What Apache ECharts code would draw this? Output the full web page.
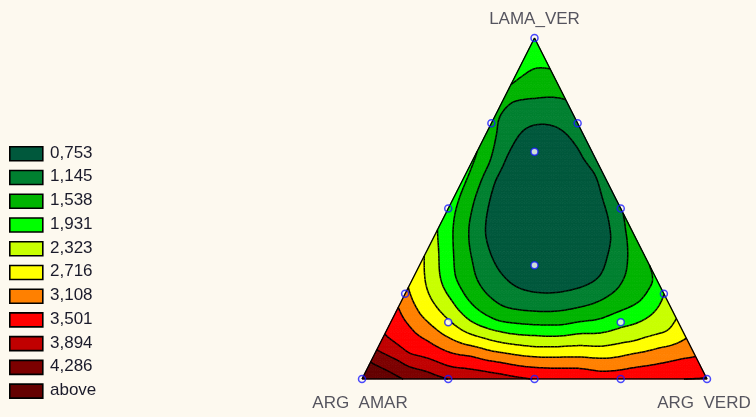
<!DOCTYPE html>
<html>
<head>
<meta charset="utf-8">
<script src="https://cdn.jsdelivr.net/npm/echarts@6/dist/echarts.min.js"></script>
<style>
  html, body { margin: 0; padding: 0; background: #fdf9ef; }
  #chart { width: 756px; height: 417px; }
</style>
</head>
<body>
<div id="chart"></div>
<script>
// Mixture components (vertex labels): top, bottom-left, bottom-right
const componentNames = ['LAMA_VER', 'ARG  AMAR', 'ARG  VERD'];

// Contour levels and the colour of each band (band k holds values up to levels[k])
const levels = [0.753, 1.145, 1.538, 1.931, 2.323, 2.716, 3.108, 3.501, 3.894, 4.286];
const legendLabels = ['0,753', '1,145', '1,538', '1,931', '2,323', '2,716', '3,108', '3,501', '3,894', '4,286', 'above'];
const bandColors = ['#00583c', '#008030', '#00b400', '#00ff00', '#c8ff00', '#ffff00',
                    '#ff8000', '#ff0000', '#c00000', '#7c0000', '#640000'];

// Design points of the mixture experiment, as [LAMA_VER, ARG_VERD] fractions (ARG_AMAR is the rest)
const designEdge = [[1, 0], [0, 0], [0, 1],
  [0.75, 0], [0.5, 0], [0.25, 0],
  [0.75, 0.25], [0.5, 0.5], [0.25, 0.75],
  [0, 0.25], [0, 0.5], [0, 0.75]];
const designInner = [[2 / 3, 1 / 6], [1 / 3, 1 / 3], [1 / 6, 1 / 6], [1 / 6, 2 / 3]];

// Traced isolines of the response: [LAMA_VER, ARG_VERD] points lying on each contour level
const trace0753 = [[0.745, 0.129], [0.730, 0.214], [0.672, 0.296], [0.604, 0.373], [0.535, 0.427],
  [0.476, 0.476], [0.417, 0.515], [0.359, 0.530], [0.300, 0.540], [0.261, 0.472], [0.255, 0.374],
  [0.270, 0.314], [0.299, 0.265], [0.340, 0.215], [0.428, 0.143], [0.487, 0.119], [0.584, 0.094], [0.652, 0.093]];
const trace1145 = [[0.821, 0.091], [0.199, 0.402], [0.821, 0.179], [0.490, 0.510], [0.818, 0.026],
  [0.730, 0.029], [0.633, 0.054], [0.584, 0.055], [0.487, 0.074], [0.340, 0.153], [0.299, 0.181],
  [0.232, 0.267], [0.217, 0.292], [0.211, 0.526], [0.238, 0.585], [0.290, 0.609], [0.364, 0.589], [0.437, 0.544]];
const trace1538 = [[0.915, 0.044], [0.158, 0.422], [0.853, 0], [0.672, 0], [0.906, 0.094], [0.352, 0.648],
  [0.584, 0.012], [0.487, 0.026], [0.299, 0.120], [0.232, 0.191], [0.167, 0.316],
  [0.158, 0.504], [0.173, 0.595], [0.196, 0.641], [0.226, 0.693], [0.282, 0.708]];
const trace1931 = [[0.129, 0.437], [0.437, 0], [0.255, 0.745], [0.299, 0.077], [0.232, 0.145],
  [0.167, 0.235], [0.141, 0.330], [0.135, 0.565], [0.153, 0.675], [0.188, 0.741], [0.232, 0.754]];
const trace2323 = [[0.094, 0.454], [0.364, 0], [0.179, 0.821], [0.299, 0.033], [0.232, 0.087],
  [0.167, 0.177], [0.120, 0.296], [0.107, 0.347], [0.094, 0.643], [0.109, 0.731], [0.135, 0.817]];
const trace2716 = [[0.065, 0.469], [0.267, 0], [0.120, 0.880], [0.232, 0.029], [0.188, 0.074],
  [0.135, 0.159], [0.100, 0.249], [0.082, 0.330], [0.062, 0.659], [0.076, 0.747], [0.094, 0.817], [0.109, 0.868]];
const trace3108 = [[0.035, 0.484], [0.214, 0], [0.0645, 0.9355], [0.158, 0.060], [0.114, 0.134],
  [0.070, 0.278], [0.050, 0.375], [0.032, 0.616], [0.021, 0.679], [0.041, 0.823], [0.062, 0.900]];
const trace3501 = [[0.129, 0], [0.070, 0.098], [0.035, 0.238], [0.015, 0.393], [0, 0.487]];
const trace3894 = [[0.085, 0], [0.056, 0.082], [0.026, 0.169], [0, 0.249]];
const trace4286 = [[0.050, 0], [0.024, 0.064], [0, 0.116]];

// Spot values of the response: [LAMA_VER, ARG_VERD, value]
const spotValues = [[1, 0, 1.85], [0, 0, 4.75], [0, 1, 3.52], [0.76, 0, 1.22], [0.672, 0.328, 1.08],
  [0, 0.65, 3.42], [0, 0.8, 3.42]];

// composition -> plot plane (x across the base, y = LAMA_VER height)
const toXY = (l, v) => [v + l / 2, l];
const ASPECT = 341 / 345;

// ---------- response surface: smoothing thin-plate spline through the readings ----------
const traces = [trace0753, trace1145, trace1538, trace1931, trace2323, trace2716,
                trace3108, trace3501, trace3894, trace4286];
const samples = [];
traces.forEach((tr, k) => tr.forEach(([l, v]) => { const p = toXY(l, v); samples.push([p[0], p[1] * ASPECT, levels[k]]); }));
spotValues.forEach(([l, v, z]) => { const p = toXY(l, v); samples.push([p[0], p[1] * ASPECT, z]); });

const SMOOTH = 1.2e-3;
const kernel = r2 => (r2 > 0 ? 0.5 * r2 * Math.log(r2) : 0);
function fitSpline(pts) {
  const n = pts.length, m = n + 3;
  const A = Array.from({ length: m }, () => new Float64Array(m + 1));
  for (let i = 0; i < n; i++) {
    for (let j = 0; j < n; j++) {
      const dx = pts[i][0] - pts[j][0], dy = pts[i][1] - pts[j][1];
      A[i][j] = kernel(dx * dx + dy * dy) + (i === j ? SMOOTH : 0);
    }
    A[i][n] = A[n][i] = 1;
    A[i][n + 1] = A[n + 1][i] = pts[i][0];
    A[i][n + 2] = A[n + 2][i] = pts[i][1];
    A[i][m] = pts[i][2];
  }
  for (let c = 0; c < m; c++) {
    let p = c;
    for (let r = c + 1; r < m; r++) if (Math.abs(A[r][c]) > Math.abs(A[p][c])) p = r;
    const tmp = A[c]; A[c] = A[p]; A[p] = tmp;
    for (let r = c + 1; r < m; r++) {
      const f = A[r][c] / A[c][c];
      if (f === 0) continue;
      for (let k = c; k <= m; k++) A[r][k] -= f * A[c][k];
    }
  }
  const x = new Float64Array(m);
  for (let r = m - 1; r >= 0; r--) {
    let s = A[r][m];
    for (let k = r + 1; k < m; k++) s -= A[r][k] * x[k];
    x[r] = s / A[r][r];
  }
  return x;
}
const weights = fitSpline(samples);
function surfaceXY(X, Y) {
  const n = samples.length;
  let s = weights[n] + weights[n + 1] * X + weights[n + 2] * Y;
  for (let i = 0; i < n; i++) {
    const dx = X - samples[i][0], dy = Y - samples[i][1];
    s += weights[i] * kernel(dx * dx + dy * dy);
  }
  return s;
}

// triangular lattice over the simplex
const N = 96;
const triangles = [];
const nodeCache = {};
const node = (i, j) => {
  const key = i * 1000 + j;
  if (!nodeCache[key]) {
    const p = toXY(i / N, j / N);
    nodeCache[key] = [p[0], p[1], surfaceXY(p[0], p[1] * ASPECT)];
  }
  return nodeCache[key];
};
for (let i = 0; i < N; i++) {
  for (let j = 0; j < N - i; j++) {
    triangles.push([node(i, j), node(i + 1, j), node(i, j + 1)]);
    if (i + j <= N - 2) triangles.push([node(i + 1, j), node(i + 1, j + 1), node(i, j + 1)]);
  }
}
function clip(poly, t, keepAbove) {
  const out = [];
  for (let i = 0; i < poly.length; i++) {
    const p = poly[i], q = poly[(i + 1) % poly.length];
    const pin = keepAbove ? p[2] >= t : p[2] <= t;
    const qin = keepAbove ? q[2] >= t : q[2] <= t;
    if (pin) out.push(p);
    if (pin !== qin) {
      const s = (t - p[2]) / (q[2] - p[2]);
      out.push([p[0] + s * (q[0] - p[0]), p[1] + s * (q[1] - p[1]), t]);
    }
  }
  return out;
}
const triData = triangles.map(t => [(t[0][0] + t[1][0] + t[2][0]) / 3, (t[0][1] + t[1][1] + t[2][1]) / 3]);

function renderBands(params, api) {
  const tri = triangles[params.dataIndex];
  const zs = tri.map(p => p[2]);
  const zmin = Math.min(...zs), zmax = Math.max(...zs);
  const children = [];
  for (let k = 0; k < bandColors.length; k++) {
    const lo = k === 0 ? -Infinity : levels[k - 1];
    const hi = k < levels.length ? levels[k] : Infinity;
    if (zmax < lo || zmin > hi) continue;
    let poly = tri;
    if (lo > -Infinity) poly = clip(poly, lo, true);
    if (poly.length >= 3 && hi < Infinity) poly = clip(poly, hi, false);
    if (poly.length < 3) continue;
    children.push({
      type: 'polygon',
      shape: { points: poly.map(p => api.coord([p[0], p[1]])) },
      style: { fill: bandColors[k], stroke: bandColors[k], lineWidth: 0.8 }
    });
  }
  return { type: 'group', children };
}
function renderIsolines(params, api) {
  const tri = triangles[params.dataIndex];
  const children = [];
  levels.forEach(t => {
    const pts = [];
    for (let i = 0; i < 3; i++) {
      const p = tri[i], q = tri[(i + 1) % 3];
      if ((p[2] - t) * (q[2] - t) < 0) {
        const s = (t - p[2]) / (q[2] - p[2]);
        pts.push(api.coord([p[0] + s * (q[0] - p[0]), p[1] + s * (q[1] - p[1])]));
      }
    }
    if (pts.length === 2) {
      children.push({ type: 'line', shape: { x1: pts[0][0], y1: pts[0][1], x2: pts[1][0], y2: pts[1][1] },
        style: { stroke: '#000', lineWidth: 1.5 } });
    }
  });
  return { type: 'group', children };
}

const vertexComps = [[1, 0], [0, 0], [0, 1]];
const vertexXY = vertexComps.map(([l, v]) => toXY(l, v));
const labelOffsets = [[0, -19], [-2, 24], [-3, 24]];

const legendGraphics = [];
legendLabels.forEach((lab, k) => {
  const y = 146 + k * 23.73;
  legendGraphics.push({ type: 'rect', left: 9, top: y, shape: { width: 33, height: 14 },
    style: { fill: bandColors[k], stroke: '#000', lineWidth: 1.6 }, silent: true });
  legendGraphics.push({ type: 'text', left: 50, top: y - 1.5, style: { text: lab, fill: '#1a1a2a',
    font: '17px "Liberation Sans", Arial, sans-serif' }, silent: true });
});

const chart = echarts.init(document.getElementById('chart'));
chart.setOption({
  backgroundColor: '#fdf9ef',
  animation: false,
  grid: { left: 362, top: 38, width: 345, height: 341 },
  xAxis: { type: 'value', min: 0, max: 1, show: false },
  yAxis: { type: 'value', min: 0, max: 1, show: false },
  graphic: legendGraphics,
  series: [
    { type: 'custom', name: 'bands', data: triData, renderItem: renderBands, silent: true, z: 1, progressive: 0 },
    { type: 'custom', name: 'isolines', data: triData, renderItem: renderIsolines, silent: true, z: 2, progressive: 0 },
    { type: 'line', name: 'frame', data: [vertexXY[1], vertexXY[0], vertexXY[2], vertexXY[1]],
      showSymbol: false, silent: true, z: 3, lineStyle: { color: '#000', width: 1.4 } },
    { type: 'scatter', name: 'design', data: designEdge.map(([l, v]) => toXY(l, v)), z: 4, silent: true,
      symbol: 'circle', symbolSize: 7, itemStyle: { color: 'rgba(255,255,255,0)', borderColor: '#1a1aff', borderWidth: 1.5 } },
    { type: 'scatter', name: 'designInner', data: designInner.map(([l, v]) => toXY(l, v)), z: 4, silent: true,
      symbol: 'circle', symbolSize: 7, itemStyle: { color: '#ffffff', borderColor: '#1a1aff', borderWidth: 1.5 } },
    { type: 'scatter', name: 'components', z: 5, silent: true, symbolSize: 0,
      data: vertexXY.map((p, k) => ({ value: p, label: { formatter: componentNames[k], offset: labelOffsets[k] } })),
      label: { show: true, position: 'inside', color: '#2a2a3a', fontSize: 17,
        fontFamily: '"Liberation Sans", Arial, sans-serif' } }
  ]
});
</script>
</body>
</html>
